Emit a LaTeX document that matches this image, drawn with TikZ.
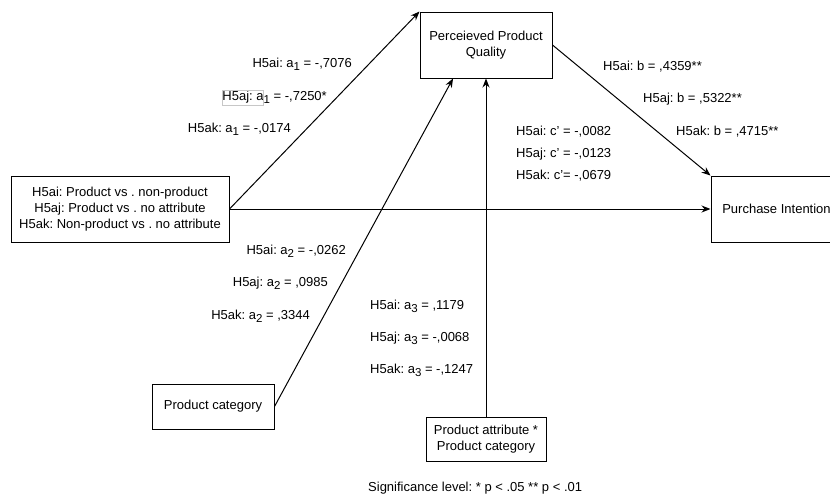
\documentclass[tikz,border=0pt]{standalone}
\usepackage{fontspec}
\setmainfont{Liberation Sans}
\usetikzlibrary{arrows.meta}
\newcommand{\sbs}[1]{\raisebox{-3pt}{\fontsize{11.5}{11.5}\selectfont #1}}
\frenchspacing
\begin{document}
\begin{tikzpicture}[x=1pt,y=-1pt,
  box/.style={draw,line width=1pt,align=center,font=\fontsize{13}{16}\selectfont,inner sep=2pt},
  lbl/.style={font=\fontsize{13}{16}\selectfont,inner sep=0pt},
  lblr/.style={lbl,anchor=mid east},
  lbll/.style={lbl,anchor=mid west},
  arr/.style={line width=1pt,-{Stealth[length=9pt,width=7pt]}}]
\useasboundingbox (0,0) rectangle (830,498);
\clip (0,0) rectangle (830,498);
% boxes
\node[box,minimum width=132pt,minimum height=66pt] (ppq) at (486,45) {Perceieved Product\\Quality};
\node[box,minimum width=218pt,minimum height=66pt] (iv) at (120,209) {H5ai: Product vs . non-product\\H5aj: Product vs . no attribute\\H5ak: Non-product vs . no attribute};
\node[box,minimum width=131pt,minimum height=66pt] (pi) at (776.5,209) {Purchase Intention};
\node[box,minimum width=122pt,minimum height=45pt] (pc) at (213,406.5) {Product category};
\node[box,minimum width=120pt,minimum height=44pt] (pa) at (486,439) {Product attribute *\\Product category};
% connectors
\draw[arr] (iv.east) -- (ppq.north west);
\draw[arr] (iv.east) -- (pi.west);
\draw[arr] (pc.east) -- ([xshift=-33pt]ppq.south);
\draw[arr] (pa.north) -- (ppq.south);
\draw[arr] (ppq.east) -- (pi.north west);
% a1 labels
\node[lblr] (a1i) at (352,65) {H5ai: a\sbs{1} = -,7076};
\node[lblr] (a1j) at (327,98) {H5aj: a\sbs{1} = -,7250*};
\node[lblr] (a1k) at (291,130) {H5ak: a\sbs{1} = -,0174};
\draw[black!22,line width=0.6pt] (222,90) rectangle (263,105.5);
% a2 labels
\node[lblr] (a2i) at (346,252) {H5ai: a\sbs{2} = -,0262};
\node[lblr] (a2j) at (328,284) {H5aj: a\sbs{2} = ,0985};
\node[lblr] (a2k) at (310,317) {H5ak: a\sbs{2} = ,3344};
% a3 labels
\node[lbll] (a3i) at (370,307) {H5ai: a\sbs{3} = ,1179};
\node[lbll] (a3j) at (370,339) {H5aj: a\sbs{3} = -,0068};
\node[lbll] (a3k) at (370,371) {H5ak: a\sbs{3} = -,1247};
% c' labels
\node[lbll] (ci) at (516,133) {H5ai: c' = -,0082};
\node[lbll] (cj) at (516,155) {H5aj: c' = -,0123};
\node[lbll] (ck) at (516,177) {H5ak: c'= -,0679};
% b labels
\node[lbll] (bi) at (603,68) {H5ai: b = ,4359**};
\node[lbll] (bj) at (643,100) {H5aj: b = ,5322**};
\node[lbll] (bk) at (676,133) {H5ak: b = ,4715**};
% significance
\node[lbll] (sig) at (368,489) {Significance level: * p < .05 ** p < .01};
\end{tikzpicture}
\end{document}
